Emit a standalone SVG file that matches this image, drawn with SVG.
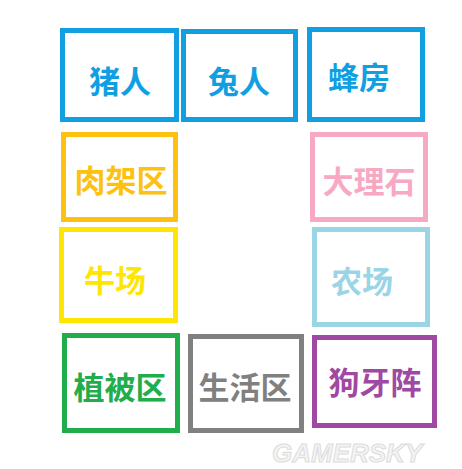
<svg xmlns="http://www.w3.org/2000/svg" width="462" height="469" viewBox="0 0 462 469">
<style>
rect{fill:none;stroke-width:5}
text{font-family:"Noto Sans CJK SC","Noto Sans",sans-serif;font-weight:bold;font-size:31px;text-anchor:middle;dominant-baseline:central}
.wm{font-family:"Liberation Sans",sans-serif;font-style:italic;font-weight:bold;font-size:26px;fill:#f4f4f4;stroke:#dcdcdc;stroke-width:1;text-anchor:start}
</style>
<rect x="0" y="0" width="462" height="469" fill="#fff" style="fill:#fff;stroke:none"/>
<g id="connectors"></g>
<g id="n1"><rect x="62.5" y="30.5" width="114" height="89" stroke="#10a0e2"/><text x="120" y="79" fill="#10a0e2">猪人</text></g>
<g id="n2"><rect x="183.5" y="31.5" width="112" height="88" stroke="#10a0e2"/><text x="239" y="79" fill="#10a0e2">兔人</text></g>
<g id="n3"><rect x="309.5" y="29.5" width="113" height="90" stroke="#10a0e2"/><text x="359" y="75" fill="#10a0e2">蜂房</text></g>
<g id="n4"><rect x="63.5" y="134.5" width="112" height="85" stroke="#fdc20f"/><text x="121" y="178" fill="#fdc20f">肉架区</text></g>
<g id="n5"><rect x="61.5" y="229.5" width="114" height="91" stroke="#ffe600"/><text x="115" y="278" fill="#ffe600">牛场</text></g>
<g id="n6"><rect x="312.5" y="134.5" width="113" height="85" stroke="#f7a9c4"/><text x="369" y="179" fill="#f7a9c4">大理石</text></g>
<g id="n7"><rect x="314.5" y="229.5" width="113" height="95" stroke="#9ad5e6"/><text x="362" y="279" fill="#9ad5e6">农场</text></g>
<g id="n8"><rect x="64.5" y="335.5" width="113" height="95" stroke="#22ad4c"/><text x="120" y="385" fill="#22ad4c">植被区</text></g>
<g id="n9"><rect x="190.5" y="336.5" width="111" height="94" stroke="#808080"/><text x="245" y="385" fill="#808080">生活区</text></g>
<g id="n10"><rect x="314.5" y="337.5" width="120" height="88" stroke="#a049a2"/><text x="375" y="380" fill="#a049a2">狗牙阵</text></g>
<text class="wm" x="272" y="453">GAMERSKY</text>
</svg>
